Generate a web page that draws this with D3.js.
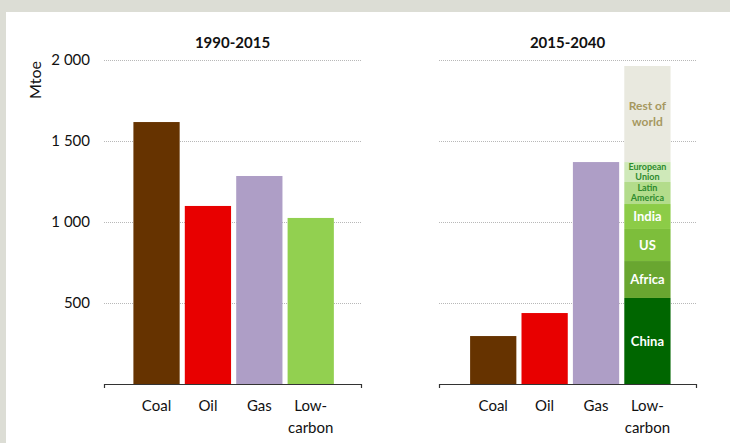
<!DOCTYPE html>
<html><head><meta charset="utf-8">
<script src="https://cdn.jsdelivr.net/npm/d3@7"></script>
<style>
body{margin:0;background:#fff;}
svg{display:block;font-family:Lato,"Open Sans",sans-serif;}
</style></head>
<body><svg id="c" width="730" height="443"></svg>
<script>
const categories = ["Coal","Oil","Gas","Low-carbon"];
const catLines = [["Coal"],["Oil"],["Gas"],["Low-","carbon"]];
const values1990 = [1617, 1099, 1284, 1025];
const values2015 = [296, 438, 1370, null];
const lowCarbonRegions = ["China","Africa","US","India","Latin America","European Union","Rest of world"];
const lowCarbonValues = [531, 228, 198, 154, 136, 123, 593];
const regionLabelLines = [["China"],["Africa"],["US"],["India"],["Latin","America"],["European","Union"],["Rest of","world"]];
const yTicks = [500, 1000, 1500, 2000];
const panelTitles = ["1990-2015","2015-2040"];

const fuelColors = ["#663300","#e80000","#ae9ec6","#92d050"];
const regionColors = ["#006600","#69a630","#7dbe3b","#8ccc47","#b3dc8b","#cfe9b9","#e9e9df"];
const regionText = ["#fff","#fff","#fff","#fff","#2e8b2e","#2e8b2e","#a6985f"];
const regionFont = [13,13,13,13,9,9,12];
const regionLH = [0,0,0,0,9.6,9.6,16];

const svg = d3.select("#c");
svg.append("rect").attr("x",0).attr("y",0).attr("width",730).attr("height",12).attr("fill","#dcddd5");
svg.append("rect").attr("x",0).attr("y",0).attr("width",6).attr("height",443).attr("fill","#dcddd5");

const y = d3.scaleLinear().domain([0,2000]).range([384,60]);
const fmt = d => d3.format(",")(d).replace(",", " ");

function panel(x0, x1, align, vals, title, showLabels){
  const g = svg.append("g");
  const x = d3.scaleBand().domain(categories).range([x0,x1]).paddingInner(0.1).paddingOuter(0.55).align(align);
  const ya = d3.axisLeft(y).tickValues(yTicks).tickSize(-(x1-x0)).tickPadding(14).tickFormat(showLabels?fmt:"");
  const yg = g.append("g").attr("transform",`translate(${x0},0)`).call(ya);
  yg.select(".domain").remove();
  yg.selectAll(".tick line").attr("stroke","#b8b8b8").attr("stroke-dasharray","1,1").attr("stroke-width",1);
  yg.selectAll(".tick text").attr("font-size",15).attr("fill","#111").attr("font-family","Lato,sans-serif");
  g.selectAll("rect.bar").data(categories.map((c,i)=>({c,v:vals[i],i})).filter(d=>d.v!=null))
    .join("rect").attr("class","bar")
    .attr("x",d=>x(d.c)).attr("width",x.bandwidth())
    .attr("y",d=>y(d.v)).attr("height",d=>y(0)-y(d.v))
    .attr("fill",d=>fuelColors[d.i]);
  const xa = d3.axisBottom(x).tickSize(0).tickSizeOuter(4).tickFormat("");
  const xg = g.append("g").attr("transform",`translate(0,${y(0)})`).call(xa);
  xg.select(".domain").attr("stroke","#333").attr("stroke-width",1.2);
  categories.forEach((c,i)=>{
    const t = g.append("text").attr("x",x(c)+x.bandwidth()/2).attr("y",411)
      .attr("text-anchor","middle").attr("font-size",15).attr("fill","#111");
    catLines[i].forEach((l,j)=>t.append("tspan").attr("x",x(c)+x.bandwidth()/2).attr("dy",j?22:0).text(l));
  });
  g.append("text").attr("x",(x0+x1)/2).attr("y",48).attr("text-anchor","middle")
    .attr("font-size",15).attr("font-weight","bold").attr("fill","#111").text(title);
  return x;
}

panel(104, 361, 0.52, values1990, panelTitles[0], true);
const x2 = panel(439, 696, 0.55, values2015, panelTitles[1], false);

const stackData = [Object.fromEntries(lowCarbonRegions.map((r,i)=>[r,lowCarbonValues[i]]))];
const series = d3.stack().keys(lowCarbonRegions)(stackData);
const sg = svg.append("g");
const bx = x2("Low-carbon"), bw = x2.bandwidth();
series.forEach((s,i)=>{
  const d = s[0];
  sg.append("rect").attr("x",bx).attr("width",bw).attr("y",y(d[1])).attr("height",y(d[0])-y(d[1]))
    .attr("fill",regionColors[i]);
  const cy = (y(d[0])+y(d[1]))/2;
  const lines = regionLabelLines[i];
  const fs = regionFont[i];
  const lh = regionLH[i];
  lines.forEach((l,j)=>sg.append("text").attr("text-anchor","middle").attr("font-weight","bold")
    .attr("font-size",fs).attr("fill",regionText[i]).attr("x",bx+bw/2)
    .attr("y",cy + (j-(lines.length-1)/2)*lh + fs*0.35).text(l));
});

svg.append("text").attr("transform","translate(41,80) rotate(-90)").attr("text-anchor","middle")
  .attr("font-size",16).attr("fill","#111").text("Mtoe");
</script></body></html>
